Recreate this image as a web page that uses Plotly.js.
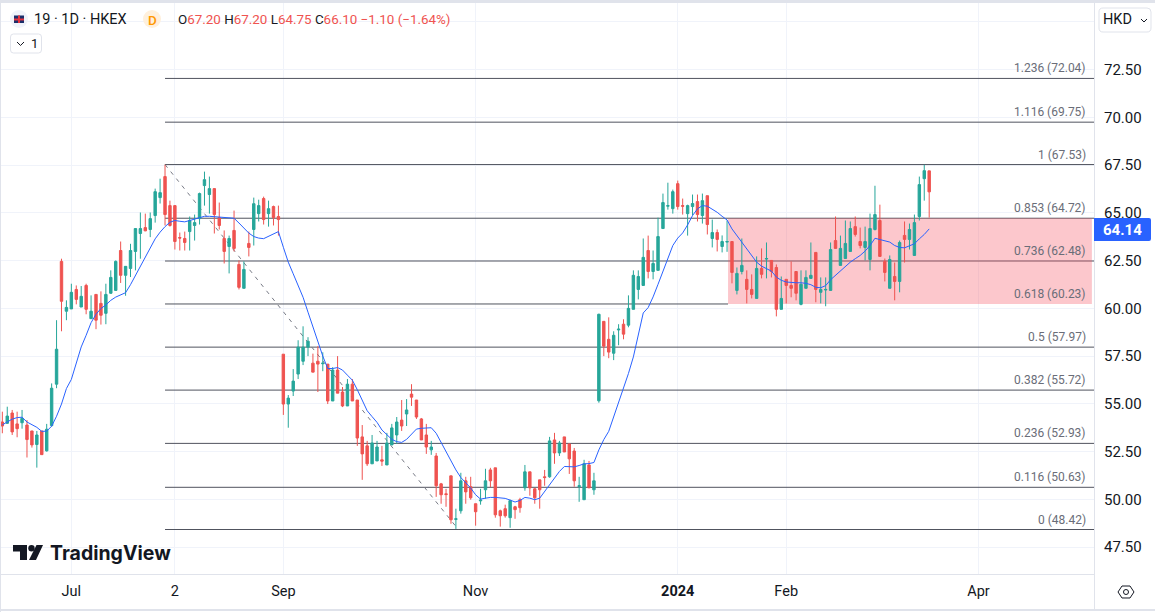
<!DOCTYPE html>
<html>
<head>
<meta charset="utf-8">
<script src="https://cdn.plot.ly/plotly-3.0.1.min.js"></script>
<style>html,body{margin:0;padding:0;background:#fff;overflow:hidden}#chart{width:1155px;height:612px}</style>
</head>
<body>
<div id="chart"></div>
<script>
const opens = [
54.05,53.98,54.52,53.95,54.01,53.89,53.58,52.87,53.58,52.54,
53.86,56.03,62.46,59.85,59.97,60.99,60.07,61.20,59.46,60.73,
60.26,59.74,60.79,60.94,63.03,61.73,62.09,62.98,63.92,64.23,
64.13,64.86,65.80,66.90,65.38,65.38,63.71,63.66,64.02,64.34,
64.70,66.43,65.96,66.27,64.75,63.66,63.24,64.08,62.30,61.05,
63.40,64.13,64.96,65.75,64.96,65.33,64.81,57.60,54.99,55.67,
56.56,57.23,57.97,57.13,57.23,57.10,57.08,55.15,56.77,55.62,
54.89,56.03,55.20,53.27,52.80,51.86,52.01,52.07,51.80,52.85,
53.37,54.15,54.47,55.51,55.20,54.21,53.37,52.59,52.27,50.81,
50.29,51.23,48.95,49.40,50.97,50.66,49.77,49.92,50.50,51.54,
51.65,49.40,49.51,49.04,49.61,49.98,50.60,51.44,50.55,51.02,
51.18,51.18,53.11,52.43,53.27,52.90,52.53,50.67,49.98,51.80,
50.50,55.16,59.32,58.38,57.65,58.87,59.17,59.12,59.95,60.99,
61.20,63.03,61.93,61.99,64.18,65.35,65.22,66.53,65.38,64.96,
65.33,65.59,64.86,65.90,63.66,63.97,63.24,63.47,63.50,60.94,
61.93,61.52,60.99,60.52,62.09,62.58,62.51,62.14,59.95,61.52,
61.20,61.93,60.21,61.05,61.57,62.93,60.84,60.96,60.94,63.55,
62.25,62.61,62.98,64.28,63.50,63.19,62.56,64.13,64.60,62.46,
61.05,61.67,61.41,63.82,63.61,62.77,64.81,66.79,67.20];
const highs = [
54.59,54.85,54.68,54.59,54.68,54.15,53.58,53.58,53.58,53.95,
56.07,59.38,62.60,60.42,61.29,61.20,61.17,61.29,60.68,60.73,
60.89,61.29,61.99,62.51,63.50,62.20,63.38,64.18,65.02,64.96,
65.02,66.27,66.79,67.52,65.64,65.38,63.97,64.02,64.81,64.91,
66.06,67.16,66.90,66.27,65.54,64.08,63.81,65.12,62.51,62.46,
64.02,65.80,65.69,65.85,65.64,65.38,65.38,57.60,55.46,56.82,
58.33,59.06,58.49,57.63,58.02,57.70,57.08,56.92,57.50,55.88,
56.30,56.30,55.20,53.89,53.06,53.37,53.06,52.80,53.48,53.95,
54.31,55.20,55.25,56.03,55.20,54.26,53.95,53.06,52.43,50.86,
50.55,51.23,49.51,51.39,51.18,51.18,49.77,50.55,51.60,51.65,
51.65,49.46,49.72,49.98,49.66,50.08,51.80,51.44,50.60,51.02,
51.54,53.27,53.48,53.06,53.27,52.90,52.69,51.18,52.07,52.01,
51.39,59.72,59.32,59.53,58.80,59.17,59.43,60.68,61.99,61.99,
63.66,63.81,63.03,64.75,66.01,66.58,66.22,66.69,65.75,65.43,
65.96,65.96,66.01,65.90,64.65,64.13,63.82,64.60,63.50,62.14,
63.66,61.99,61.78,62.72,63.14,63.45,62.51,62.30,61.67,61.52,
62.46,61.93,61.99,61.99,63.45,62.93,61.62,61.62,63.45,64.81,
63.81,64.60,64.55,64.81,64.23,64.28,64.96,66.42,65.43,62.61,
62.77,62.40,63.55,64.55,64.44,64.91,66.90,67.52,67.20];
const lows = [
53.46,53.95,53.37,53.25,53.70,52.19,52.71,51.66,52.34,52.50,
53.81,55.82,58.80,59.38,59.97,60.21,60.07,59.69,59.46,58.91,
59.15,59.17,60.77,60.94,61.33,60.66,61.64,61.99,62.60,64.04,
63.73,64.49,65.49,64.34,64.28,63.08,63.03,63.03,63.03,63.55,
64.39,65.38,64.96,63.92,64.13,62.35,61.83,62.98,60.99,61.05,
62.72,63.29,64.55,64.39,64.28,64.34,63.81,54.42,53.75,55.41,
56.30,57.03,57.50,56.66,55.62,56.71,54.99,55.15,55.56,54.83,
54.89,55.15,52.80,51.02,51.75,51.86,52.01,51.75,51.80,52.85,
52.90,53.58,53.84,54.89,54.21,53.11,52.38,52.33,50.13,49.77,
49.61,48.72,48.45,49.25,49.77,49.98,48.62,49.72,50.03,50.64,
49.04,48.57,49.04,48.51,48.98,49.30,50.45,50.19,49.77,49.51,
50.71,51.13,51.86,52.27,52.48,51.33,50.66,49.87,49.98,50.60,
50.24,55.06,57.50,57.39,57.29,58.07,58.38,59.01,59.95,60.47,
61.20,61.57,61.52,61.99,64.18,65.17,64.96,65.17,64.91,63.81,
64.86,64.55,64.44,63.87,63.19,62.98,62.93,62.96,61.31,60.73,
61.78,60.26,60.52,60.52,61.57,61.57,61.62,59.58,59.95,60.26,
60.58,60.42,60.16,61.05,61.57,60.32,60.26,60.11,60.94,63.14,
62.25,62.61,62.98,63.76,63.14,62.51,61.99,64.08,62.72,61.41,
61.05,60.42,60.84,62.40,63.08,62.77,64.60,65.64,64.75];
const closes = [
53.84,54.36,53.53,53.70,54.24,53.13,52.85,53.37,52.34,53.67,
55.82,57.86,60.37,60.05,60.84,60.47,60.63,59.95,59.85,59.38,
59.64,60.73,61.62,62.46,61.73,62.20,63.03,64.18,64.18,64.06,
64.70,66.11,66.06,64.91,64.34,63.50,63.68,63.45,64.60,64.49,
66.01,66.74,66.27,64.91,64.34,62.98,63.66,63.14,61.10,62.04,
63.19,65.48,65.38,64.65,65.22,64.75,64.65,54.99,55.30,56.19,
57.97,57.97,58.28,56.66,57.08,57.13,55.15,56.77,55.56,54.89,
56.03,55.15,53.21,52.38,51.86,52.95,52.74,52.00,52.95,53.74,
54.05,53.84,54.68,55.35,54.31,53.11,52.74,52.74,50.71,50.24,
50.25,48.93,48.98,50.97,50.39,50.08,49.35,49.96,50.97,50.97,
49.19,49.14,49.14,49.93,49.46,49.56,51.44,50.60,50.08,50.50,
51.14,53.06,52.43,52.95,52.48,52.12,50.97,50.71,51.86,50.60,
50.97,59.69,58.02,57.71,58.59,58.91,58.65,60.00,61.73,61.67,
62.67,61.93,62.35,63.76,65.54,65.38,66.11,65.33,65.35,65.38,
65.49,64.91,65.64,64.39,63.97,63.61,63.50,63.50,61.88,61.83,
62.25,60.99,60.73,62.09,61.78,62.61,61.93,59.95,60.52,61.20,
61.05,60.79,61.26,61.62,61.73,60.99,60.99,60.99,63.08,63.14,
63.14,63.40,64.18,63.87,63.29,63.50,64.18,64.91,62.72,61.88,
62.56,61.41,63.45,63.61,64.13,64.49,66.48,67.21,66.10];
const movingAverage = [
53.9,54.07,54.2,54.28,54.3,54.05,53.9,53.77,53.56,53.57,
53.83,54.35,54.99,55.8,56.28,57.18,57.98,58.59,59.25,59.69,
59.99,60.18,60.42,60.59,60.7,60.82,61.24,61.73,62.16,62.73,
63.2,63.64,63.99,64.28,64.51,64.6,64.56,64.53,64.6,64.68,
64.77,64.82,64.82,64.8,64.79,64.77,64.75,64.72,64.47,64.21,
63.94,63.76,63.68,63.65,63.76,63.9,64.02,63.2,62.42,61.81,
61.2,60.58,59.8,59.0,58.2,57.5,56.85,56.85,56.9,56.77,
56.5,56.24,55.74,55.15,54.64,54.33,54.03,53.63,53.37,53.14,
53.02,52.98,53.14,53.4,53.68,53.72,53.75,53.75,53.46,52.97,
52.5,51.98,51.54,51.14,50.85,50.59,50.24,50.01,50.06,50.1,
50.1,50.08,50.05,49.96,49.86,49.94,50.1,50.06,49.98,50.06,
50.41,50.76,51.11,51.46,51.72,51.72,51.7,51.77,51.86,51.87,
51.93,52.59,53.13,53.56,54.31,55.0,55.72,56.59,57.46,58.68,
59.76,60.04,60.6,61.26,61.95,62.63,63.29,63.68,63.95,64.37,
64.86,65.21,65.38,65.35,65.21,65.03,64.82,64.63,64.16,63.81,
63.47,63.12,62.77,62.42,62.21,62.07,61.95,61.64,61.47,61.38,
61.34,61.34,61.34,61.31,61.24,61.1,61.08,61.19,61.5,61.73,
61.93,62.2,62.42,62.6,62.77,63.0,63.29,63.67,63.59,63.55,
63.47,63.29,63.19,63.17,63.26,63.38,63.64,63.87,64.16];

const fibRatios = ['1.236','1.116','1','0.853','0.736','0.618','0.5','0.382','0.236','0.116','0'];
const fibPrices = [72.04,69.75,67.53,64.72,62.48,60.23,57.97,55.72,52.93,50.63,48.42];
const priceTicks = [47.5,50,52.5,55,57.5,60,62.5,65,67.5,70,72.5,75];
const priceTickLabels = ['47.50','50.00','52.50','55.00','57.50','60.00','62.50','65.00','67.50','70.00','72.50',''];
const timeTicks = [14,35,57,96,137,159,198];
const timeTickLabels = ['Jul','2','Sep','Nov','<b>2024</b>','Feb','Apr'];
const fibStartBar = 33, fibTrendEndBar = 92.5, zoneStartBar = 147.2, zoneEndBar = 221;
const lastValue = 64.14;

const W = 1155, H = 612, mL = 0, mR = 61, mT = 3, mB = 38;
const xRange = [-0.473, 221.43], yRange = [46.09, 75.99];
const green = '#26a69a', red = '#ef5350', ink = '#131722', rule = '#e0e3eb', grid = '#f0f3fa';
const px = x => (x - mL) / (W - mL - mR);
const py = y => 1 - (y - mT) / (H - mT - mB);

function rect(x0, y0, x1, y1, fill) {
  return {type:'rect', xref:'paper', yref:'paper', x0:px(x0), x1:px(x1), y0:py(y0), y1:py(y1),
          fillcolor:fill, line:{width:0}, layer:'above'};
}
function circle(cx, cy, r, fill, line, lw) {
  return {type:'circle', xref:'paper', yref:'paper', x0:px(cx-r), x1:px(cx+r), y0:py(cy+r), y1:py(cy-r),
          fillcolor:fill, line:{color:line||fill, width:line?(lw||1):0}, layer:'above'};
}
function pathShape(points, fill, line, lw, close) {
  const d = points.map((p,i)=>(i?'L':'M')+px(p[0]).toFixed(5)+','+py(p[1]).toFixed(5)).join('') + (close?'Z':'');
  return {type:'path', xref:'paper', yref:'paper', path:d, fillcolor:fill||'rgba(0,0,0,0)',
          line:{color:line||fill, width:line?(lw||1):0}, layer:'above'};
}
function roundRect(x0, y0, x1, y1, rl, rr, fill, line) {
  const P = (x,y) => px(x).toFixed(5)+','+py(y).toFixed(5);
  const d = 'M'+P(x0+rl,y0)+'L'+P(x1-rr,y0)+'Q'+P(x1,y0)+' '+P(x1,y0+rr)+'L'+P(x1,y1-rr)+'Q'+P(x1,y1)+' '+P(x1-rr,y1)
          + 'L'+P(x0+rl,y1)+'Q'+P(x0,y1)+' '+P(x0,y1-rl)+'L'+P(x0,y0+rl)+'Q'+P(x0,y0)+' '+P(x0+rl,y0)+'Z';
  return {type:'path', xref:'paper', yref:'paper', path:d, fillcolor:fill,
          line:{color:line||fill, width:line?1:0}, layer:'above'};
}
function note(x, y, text, o) {
  return Object.assign({xref:'paper', yref:'paper', x:px(x), y:py(y), text, showarrow:false,
    xanchor:'left', yanchor:'middle', font:{family:'Roboto', size:14, color:ink}, borderpad:0}, o||{});
}

const shapes = [];
fibPrices.forEach((p,i) => {
  shapes.push({type:'line', xref:'x', yref:'y', x0:fibStartBar, x1: fibRatios[i]==='0.618' ? zoneStartBar : xRange[1],
    y0:p, y1:p, line:{color:'#50535e', width:1}, layer:'between'});
});
shapes.push({type:'line', xref:'x', yref:'y', x0:fibStartBar, x1:fibTrendEndBar, y0:fibPrices[2], y1:fibPrices[10],
  line:{color:'#787b86', width:1, dash:'4px,5px'}, layer:'between'});
shapes.push({type:'rect', xref:'x', yref:'y', x0:zoneStartBar, x1:zoneEndBar, y0:fibPrices[5], y1:fibPrices[3],
  fillcolor:'rgba(247,82,95,0.32)', line:{width:0}, layer:'between'});

// frame
shapes.push(rect(0,0,W,3,rule));
shapes.push(rect(0,0,1,H,rule));
shapes.push(rect(1094,0,1095,610,rule));
shapes.push(rect(0,574,1095,575,rule));
shapes.push(rect(0,609,W,611,rule));
// flag badge
shapes.push(circle(19,19,9,'#f0f3fa'));
shapes.push(rect(14,15.5,24,23,'#1b2f6b'));
shapes.push(rect(18,15.5,20,23,'#e5323e'));
shapes.push(rect(14,18.5,24,20.5,'#e5323e'));
// interval badge
shapes.push(circle(152,19,9,'#fff0dc'));
// collapse button
shapes.push(roundRect(10.5,34,41.5,53,3,3,'#ffffff',rule));
shapes.push(pathShape([[17,42],[20.5,45.5],[24,42]], null, ink, 1));
// currency button
shapes.push(roundRect(1099,8,1151,32,4,4,'#ffffff',rule));
shapes.push(pathShape([[1141,19],[1144,22],[1147,19]], null, ink, 1));
// last value tag
shapes.push(roundRect(1094,218,1151,241,0,2,'#2962ff'));
// TradingView mark
shapes.push(pathShape([[13,545],[27,545],[27,560],[20,560],[20,551.5],[13,551.5]], ink, null, 0, true));
shapes.push(circle(31.5,548.2,3.2,ink));
shapes.push(pathShape([[36.5,545],[43,545],[36,560],[29,560]], ink, null, 0, true));
// settings glyph
shapes.push(pathShape([[1118,592],[1122,586],[1130,586],[1134,592],[1130,598],[1122,598]], '#ffffff', ink, 1, true));
shapes.push(circle(1126,592,2.5,'#ffffff',ink,1));

const annotations = [];
fibPrices.forEach((p,i) => {
  annotations.push({xref:'x', yref:'y', x:220, y:p, yshift:2, xanchor:'right', yanchor:'bottom',
    text:fibRatios[i]+' ('+p.toFixed(2)+')', showarrow:false, borderpad:0,
    font:{family:'Roboto', size:12, color:'#6a6d78'}});
});
annotations.push(note(33,19.5,'19 · 1D · HKEX',{font:{family:'Roboto',size:14.5,color:ink}}));
annotations.push(note(152,19.5,'D',{xanchor:'center',font:{family:'Roboto',size:13.5,color:'#ff9800',weight:500}}));
const vc = t => '<span style="color:'+red+'">'+t+'</span>';
annotations.push(note(177,19.5,'O'+vc('67.20')+' H'+vc('67.20')+' L'+vc('64.75')+' C'+vc('66.10')+' '+vc('−1.10 (−1.64%)'),
  {font:{family:'Roboto',size:13.4,color:ink}}));
annotations.push(note(30,43.5,'1',{font:{family:'Roboto',size:13,color:ink}}));
annotations.push(note(1102,20,'HKD',{font:{family:'Roboto',size:14.5,color:ink}}));
annotations.push(note(1122.5,230,'<b>'+lastValue.toFixed(2)+'</b>',{xanchor:'center',font:{family:'Roboto',size:15,color:'#ffffff'}}));
annotations.push(note(49,553,'<b>TradingView</b>',{font:{family:'Inter',size:19.5,color:ink}}));

const traces = [
  {type:'candlestick', x:opens.map((_,i)=>i), open:opens, high:highs, low:lows, close:closes,
   increasing:{line:{color:green,width:1}, fillcolor:green},
   decreasing:{line:{color:red,width:1}, fillcolor:red},
   whiskerwidth:0, hoverinfo:'skip', showlegend:false},
  {type:'scatter', mode:'lines', x:movingAverage.map((_,i)=>i), y:movingAverage,
   line:{color:'#2962ff', width:1}, hoverinfo:'skip', showlegend:false}
];

const layout = {
  width:W, height:H, paper_bgcolor:'#ffffff', plot_bgcolor:'#ffffff',
  margin:{l:mL, r:mR, t:mT, b:mB, pad:0}, showlegend:false, hovermode:false,
  boxgap:0.3,
  xaxis:{type:'linear', range:xRange, fixedrange:true, rangeslider:{visible:false},
    tickmode:'array', tickvals:timeTicks, ticktext:timeTickLabels, showgrid:true, gridcolor:grid, gridwidth:1,
    zeroline:false, showline:false, ticks:'', ticklabelstandoff:6, tickfont:{family:'Roboto', size:14.5, color:ink}},
  yaxis:{type:'linear', range:yRange, fixedrange:true, side:'right',
    tickmode:'array', tickvals:priceTicks, ticktext:priceTickLabels, showgrid:true, gridcolor:grid, gridwidth:1,
    zeroline:false, showline:false, ticks:'', ticklabelstandoff:9, tickfont:{family:'Roboto', size:15, color:ink}},
  shapes, annotations
};
Plotly.newPlot('chart', traces, layout, {displayModeBar:false, staticPlot:true});
</script>
</body>
</html>
